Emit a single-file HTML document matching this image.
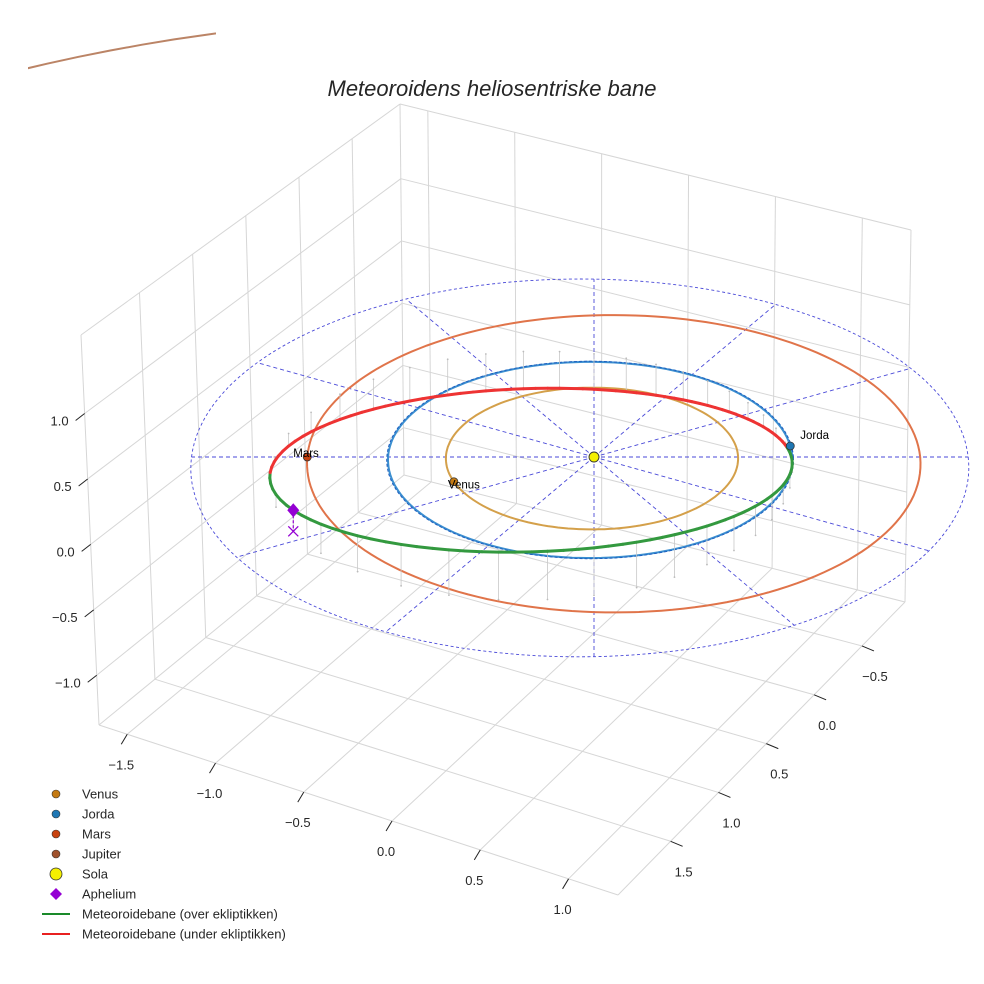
<!DOCTYPE html>
<html><head><meta charset="utf-8"><style>
html,body{margin:0;padding:0;background:#fff;overflow:hidden;width:984px;height:984px;}
svg{display:block;font-family:"Liberation Sans",sans-serif;}
</style></head><body>
<svg id="chart" width="984" height="984" viewBox="0 0 984 984" xmlns="http://www.w3.org/2000/svg">
<defs><clipPath id="jclip"><rect x="28" y="0" width="188" height="110"/></clipPath></defs>
<g id="box"></g>
<g id="plot"></g>
<text x="492" y="96" text-anchor="middle" font-size="22" font-style="italic" fill="#262626">Meteoroidens heliosentriske bane</text>
<g id="legend"></g>
</svg>
<script>
// ---- data ----
const xTicks = [-1.5, -1.0, -0.5, 0.0, 0.5, 1.0];
const yTicks = [-0.5, 0.0, 0.5, 1.0, 1.5];
const zTicks = [-1.0, -0.5, 0.0, 0.5, 1.0];
const xTickLabels = ["\u22121.5","\u22121.0","\u22120.5","0.0","0.5","1.0"];
const yTickLabels = ["\u22120.5","0.0","0.5","1.0","1.5"];
const zTickLabels = ["\u22121.0","\u22120.5","0.0","0.5","1.0"];
const planetNames = ["Venus", "Jorda", "Mars", "Jupiter"];
const planetA = [0.723, 1.0, 1.524, 5.2];
const planetE = [0.0, 0.0, 0.093, 0.0];
const planetPeri = [0, 0, 180, 0];          // deg
const planetAngle = [160, -6.6, 180, null]; // deg, current position
const meteorP = [1.205];      // semi-latus rectum (AU)
const meteorE = [0.242];
const meteorPeri = [-27];     // deg
const meteorNode = [175];     // deg
const meteorTanI = [0.27];
const gridRadii = [1.0, 1.92];
const gridSpokes = [0,30,60,90,120,150,180,210,240,270,300,330];

const NS = "http://www.w3.org/2000/svg";
function mk(parent, tag, attrs){const e=document.createElementNS(NS,tag);for(const k in attrs)e.setAttribute(k,attrs[k]);parent.appendChild(e);return e;}
const rad = d => d*Math.PI/180;

// ---- data projection (ecliptic frame) ----
function proj(x,y,z){const w=1+0.019*x-0.03*y;return [594+202*x/w, 457+(98*y-125*z)/w];}

// ---- box projection ----
const xlim=[-1.66,1.28], ylim=[-0.95,2.05], zlim=[-1.38,1.6];
const Lb=[99,725],Fb=[618,895],Rb=[905,602],Bb=[404,475];
const Lt=[81,335],Ft=[640,495],Rt=[911,230],Bt=[400,104];
function bl(P,s,t){return [(1-s)*(1-t)*P[0][0]+s*(1-t)*P[1][0]+s*t*P[2][0]+(1-s)*t*P[3][0],(1-s)*(1-t)*P[0][1]+s*(1-t)*P[1][1]+s*t*P[2][1]+(1-s)*t*P[3][1]];}
function bp(x,y,z){const s=(x-xlim[0])/(xlim[1]-xlim[0]);const t=(ylim[1]-y)/(ylim[1]-ylim[0]);const f=(z-zlim[0])/(zlim[1]-zlim[0]);
 const a=bl([Lb,Fb,Rb,Bb],s,t), b=bl([Lt,Ft,Rt,Bt],s,t);return [a[0]*(1-f)+b[0]*f,a[1]*(1-f)+b[1]*f];}

const box=document.getElementById('box');
function gline(p,q,name){const l=mk(box,'line',{x1:p[0],y1:p[1],x2:q[0],y2:q[1],stroke:'#d6d6d6','stroke-width':1});

}
gline(bp(xlim[0],ylim[1],zlim[0]),bp(xlim[0],ylim[1],zlim[1]),'box-edge');
gline(bp(xlim[0],ylim[0],zlim[0]),bp(xlim[0],ylim[0],zlim[1]),'box-edge');
gline(bp(xlim[1],ylim[0],zlim[0]),bp(xlim[1],ylim[0],zlim[1]),'box-edge');
gline(bp(xlim[0],ylim[1],zlim[1]),bp(xlim[0],ylim[0],zlim[1]),'box-edge');
gline(bp(xlim[0],ylim[0],zlim[1]),bp(xlim[1],ylim[0],zlim[1]),'box-edge');
gline(bp(xlim[0],ylim[1],zlim[0]),bp(xlim[1],ylim[1],zlim[0]),'box-edge');
gline(bp(xlim[1],ylim[1],zlim[0]),bp(xlim[1],ylim[0],zlim[0]),'box-edge');
gline(bp(xlim[0],ylim[1],zlim[0]),bp(xlim[0],ylim[0],zlim[0]),'box-edge');
gline(bp(xlim[0],ylim[0],zlim[0]),bp(xlim[1],ylim[0],zlim[0]),'box-edge');
xTicks.forEach(x=>{gline(bp(x,ylim[1],zlim[0]),bp(x,ylim[0],zlim[0]),'floor-gridline-x');gline(bp(x,ylim[0],zlim[0]),bp(x,ylim[0],zlim[1]),'wall-gridline-x');});
yTicks.forEach(y=>{gline(bp(xlim[0],y,zlim[0]),bp(xlim[1],y,zlim[0]),'floor-gridline-y');gline(bp(xlim[0],y,zlim[0]),bp(xlim[0],y,zlim[1]),'wall-gridline-y');});
zTicks.forEach(z=>{gline(bp(xlim[0],ylim[1],z),bp(xlim[0],ylim[0],z),'wall-gridline-z');gline(bp(xlim[0],ylim[0],z),bp(xlim[1],ylim[0],z),'wall-gridline-z');});
function tick(p,d,name){const l=mk(box,'line',{x1:p[0],y1:p[1],x2:p[0]+d[0],y2:p[1]+d[1],stroke:'#222','stroke-width':1});

}
function lab(x,y,txt,anchor,name){const t=mk(box,'text',{x:x,y:y,'text-anchor':anchor,'font-size':13,fill:'#262626'});t.textContent=txt;

}
xTicks.forEach((x,i)=>{const p=bp(x,ylim[1],zlim[0]);tick(p,[-6,10],'x-tick');lab(p[0]-6,p[1]+35,xTickLabels[i],'middle','x-tick-label');});
yTicks.forEach((y,i)=>{const p=bp(xlim[1],y,zlim[0]);tick(p,[12,5],'y-tick');lab(p[0]+13,p[1]+35,yTickLabels[i],'middle','y-tick-label');});
zTicks.forEach((z,i)=>{const p=bp(xlim[0],ylim[1],z);tick(p,[-9,7],'z-tick');lab(p[0]-16,p[1]+12,zTickLabels[i],'end','z-tick-label');});

// ---- plot ----
const plot=document.getElementById('plot');
function pathFrom(pts){return pts.map((p,i)=>(i?'L':'M')+p[0].toFixed(1)+','+p[1].toFixed(1)).join('');}
function orbitPts(a,e,peri){const pts=[];for(let d=0;d<=360;d+=2){const th=rad(d);const r=a*(1-e*e)/(1+e*Math.cos(th-rad(peri)));pts.push(proj(r*Math.cos(th),r*Math.sin(th),0));}return pts;}
gridRadii.forEach(R=>{const pts=[];for(let d=0;d<=360;d+=2)pts.push(proj(R*Math.cos(rad(d)),R*Math.sin(rad(d)),0));
 const p=mk(plot,'path',{d:pathFrom(pts),fill:'none',stroke:'#4a4ad8','stroke-width':0.9,'stroke-dasharray':'3,2.5'});
 
 });
gridSpokes.forEach(a=>{const R=gridRadii[gridRadii.length-1];const q=proj(R*Math.cos(rad(a)),R*Math.sin(rad(a)),0),o=proj(0,0,0);
 const l=mk(plot,'line',{x1:o[0],y1:o[1],x2:q[0],y2:q[1],stroke:'#4a4ad8','stroke-width':0.9,'stroke-dasharray':'4,3'});
 
 });
const orbitColors=['#d4a04a','#3b8fd0','#e0744a','#bb8466'];
planetNames.forEach((n,i)=>{const p=mk(plot,'path',{d:pathFrom(orbitPts(planetA[i],planetE[i],planetPeri[i])),fill:'none',stroke:orbitColors[i],'stroke-width':2});
 if(i===3)p.setAttribute('clip-path','url(#jclip)');
 
 });
// earth orbit dashed overlay
{const p=mk(plot,'path',{d:pathFrom(orbitPts(planetA[1]*1.006,0,0)),fill:'none',stroke:'#1f5fc0','stroke-width':1,'stroke-dasharray':'3,2'});
 
 }
const mPts=[];
for(let d=0;d<=360;d+=3){const th=rad(d);const r=meteorP[0]/(1+meteorE[0]*Math.cos(th-rad(meteorPeri[0])));
 const x=r*Math.cos(th),y=r*Math.sin(th),z=r*meteorTanI[0]*Math.sin(rad(meteorNode[0])-th);mPts.push({x,y,z});}
mPts.forEach((q,i)=>{if(i%3===0){const a=proj(q.x,q.y,q.z),b=proj(q.x,q.y,0);
 const l=mk(plot,'line',{x1:a[0],y1:a[1],x2:b[0],y2:b[1],stroke:'#c8c8c8','stroke-width':0.8});
 
 
 const c=mk(plot,'circle',{cx:b[0],cy:b[1],r:0.9,fill:'#bbb'});
 
 }});
for(let i=0;i<mPts.length-1;i++){const a=mPts[i],b=mPts[i+1];const up=(a.z+b.z)>=0;const A=proj(a.x,a.y,a.z),B=proj(b.x,b.y,b.z);
 const l=mk(plot,'line',{x1:A[0],y1:A[1],x2:B[0],y2:B[1],stroke:up?'#33993f':'#ee3333','stroke-width':3,'stroke-linecap':'round'});
 
 }
{const th=rad(meteorPeri[0]+180);const r=meteorP[0]/(1-meteorE[0]);const x=r*Math.cos(th),y=r*Math.sin(th),z=r*meteorTanI[0]*Math.sin(rad(meteorNode[0])-th);
 const a=proj(x,y,z),b=proj(x,y,0);
 const l=mk(plot,'line',{x1:a[0],y1:a[1],x2:b[0],y2:b[1],stroke:'#9400d3','stroke-width':1.2,'stroke-dasharray':'3,2'});
 
 
 const xm=mk(plot,'path',{d:`M${b[0]-5},${b[1]-5}L${b[0]+5},${b[1]+5}M${b[0]+5},${b[1]-5}L${b[0]-5},${b[1]+5}`,stroke:'#9400d3','stroke-width':1.3});
 
 
 const dm=mk(plot,'path',{d:`M${a[0]},${a[1]-7}L${a[0]+6},${a[1]}L${a[0]},${a[1]+7}L${a[0]-6},${a[1]}Z`,fill:'#9400d3'});
 
 }
const markerColors=['#c47a12','#1f77b4','#c8420f','#a0522d'];
const labelOffsets=[[-6,3],[10,-11],[-14,-4],[0,0]];
planetNames.forEach((n,i)=>{if(planetAngle[i]===null)return;const th=rad(planetAngle[i]);
 const r=planetA[i]*(1-planetE[i]*planetE[i])/(1+planetE[i]*Math.cos(th-rad(planetPeri[i])));
 const p=proj(r*Math.cos(th),r*Math.sin(th),0);
 const c=mk(plot,'circle',{cx:p[0],cy:p[1],r:4,fill:markerColors[i],stroke:'#333','stroke-width':0.8});
 
 
 const t=mk(plot,'text',{x:p[0]+labelOffsets[i][0],y:p[1]+labelOffsets[i][1]+4,'font-size':11.5,fill:'#000'});t.textContent=n;
 
 });
{const s=proj(0,0,0);const c=mk(plot,'circle',{cx:s[0],cy:s[1],r:5,fill:'#f5f000',stroke:'#333','stroke-width':0.9});
 
 }

const legend=document.getElementById('legend');
const legLabels=['Venus','Jorda','Mars','Jupiter','Sola','Aphelium','Meteoroidebane (over ekliptikken)','Meteoroidebane (under ekliptikken)'];
const legKinds=['dot','dot','dot','dot','sun','diamond','green','red'];
const legColors=['#c47a12','#1f77b4','#c8420f','#a0522d','#f5f000','#9400d3','#1a8a2a','#e82020'];
legLabels.forEach((t,i)=>{const y=794+i*20;const g=mk(legend,'g',{});
 
 
 const k=legKinds[i];
 if(k==='dot')mk(g,'circle',{cx:56,cy:y,r:4,fill:legColors[i],stroke:'#333','stroke-width':0.6});
 else if(k==='sun')mk(g,'circle',{cx:56,cy:y,r:6,fill:legColors[i],stroke:'#333','stroke-width':0.8});
 else if(k==='diamond')mk(g,'path',{d:`M56,${y-6}L62,${y}L56,${y+6}L50,${y}Z`,fill:legColors[i]});
 else mk(g,'line',{x1:42,y1:y,x2:70,y2:y,stroke:legColors[i],'stroke-width':2});
 const tx=mk(g,'text',{x:82,y:y+4.5,'font-size':13,fill:'#262626'});tx.textContent=t;});
</script>
</body></html>
